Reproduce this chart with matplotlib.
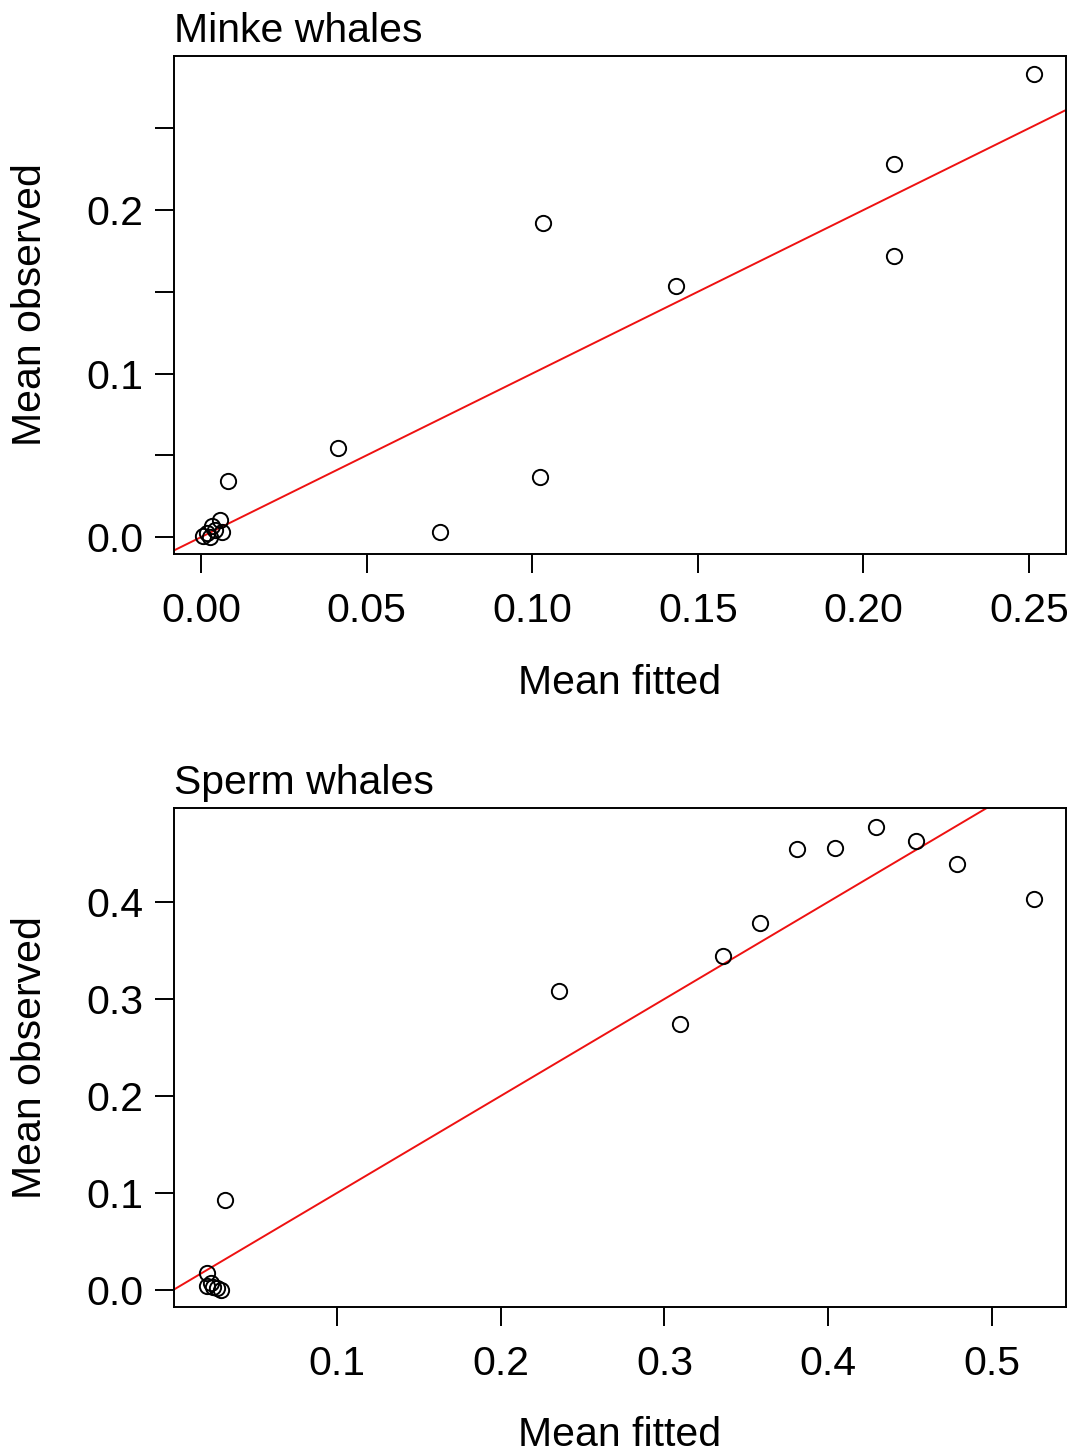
import matplotlib.pyplot as plt
import numpy as np

plt.rcParams['font.family'] = ['Liberation Sans', 'DejaVu Sans']

# minke whales: mean fitted vs mean observed
minke_fit = [0.2515, 0.2092, 0.2092, 0.1033, 0.1434, 0.0414, 0.1024, 0.0722, 0.0082,
             0.0057, 0.0033, 0.0018, 0.0063, 0.0027, 0.0006, 0.0042]
minke_obs = [0.2832, 0.2281, 0.1719, 0.1920, 0.1535, 0.0544, 0.0367, 0.0031, 0.0343,
             0.0104, 0.0067, 0.0024, 0.0031, 0.0000, 0.0006, 0.0043]

# sperm whales
sperm_fit = [0.5258, 0.4788, 0.4537, 0.4293, 0.4043, 0.3811, 0.3585, 0.3359, 0.3096,
             0.2357, 0.0318, 0.0208, 0.0208, 0.0232, 0.0244, 0.0269, 0.0293]
sperm_obs = [0.4031, 0.4392, 0.4629, 0.4773, 0.4557, 0.4546, 0.3784, 0.3443, 0.2742,
             0.3082, 0.0928, 0.0175, 0.0041, 0.0072, 0.0031, 0.0021, 0.0000]

minke_xticks = [0.00, 0.05, 0.10, 0.15, 0.20, 0.25]
minke_yticks = [0.0, 0.05, 0.1, 0.15, 0.2, 0.25]
minke_ylabels = ['0.0', '', '0.1', '', '0.2', '']
sperm_xticks = [0.1, 0.2, 0.3, 0.4, 0.5]
sperm_yticks = [0.0, 0.1, 0.2, 0.3, 0.4]

fig = plt.figure(figsize=(10.75, 14.56), dpi=100)
ax1 = fig.add_axes([0.1619, 0.6195, 0.8297, 0.3420])
ax2 = fig.add_axes([0.1619, 0.1023, 0.8297, 0.3428])

panels = [
    (ax1, minke_fit, minke_obs, 'Minke whales', (-0.0082, 0.2612), (-0.0104, 0.2942)),
    (ax2, sperm_fit, sperm_obs, 'Sperm whales', (0.0006, 0.5452), (-0.0175, 0.4969)),
]

for ax, xf, yo, title, xl, yl in panels:
    ax.plot(xf, yo, 'o', mfc='none', mec='black', ms=11, mew=1.4, zorder=3)
    # 1:1 reference line
    lim = np.array([-1.0, 1.0])
    ax.plot(lim, lim, color='#ee1111', lw=1.4, zorder=2)
    ax.set_xlim(*xl)
    ax.set_ylim(*yl)
    ax.set_title(title, loc='left', fontsize=29.5, pad=10)
    ax.set_xlabel('Mean fitted', fontsize=29.5)
    ax.set_ylabel('Mean observed', fontsize=29.5)
    for s in ax.spines.values():
        s.set_linewidth(1.4)
    ax.tick_params(length=14, width=1.4, labelsize=29.5, direction='out')
    ax.tick_params(axis='x', pad=13)
    ax.tick_params(axis='y', pad=8)
    ax.yaxis.set_label_coords(-0.1614, 0.5)
    ax.yaxis.label.set_va('center')
    ax.xaxis.label.set_va('center')

ax1.set_xticks(minke_xticks)
ax1.set_xticklabels(['%.2f' % v for v in minke_xticks])
ax1.set_yticks(minke_yticks)
ax1.set_yticklabels(minke_ylabels)
ax1.xaxis.set_label_coords(0.5, -0.259)

ax2.set_xticks(sperm_xticks)
ax2.set_xticklabels(['%.1f' % v for v in sperm_xticks])
ax2.set_yticks(sperm_yticks)
ax2.set_yticklabels(['%.1f' % v for v in sperm_yticks])
ax2.xaxis.set_label_coords(0.5, -0.2565)

fig.savefig('out.png', dpi=100)
